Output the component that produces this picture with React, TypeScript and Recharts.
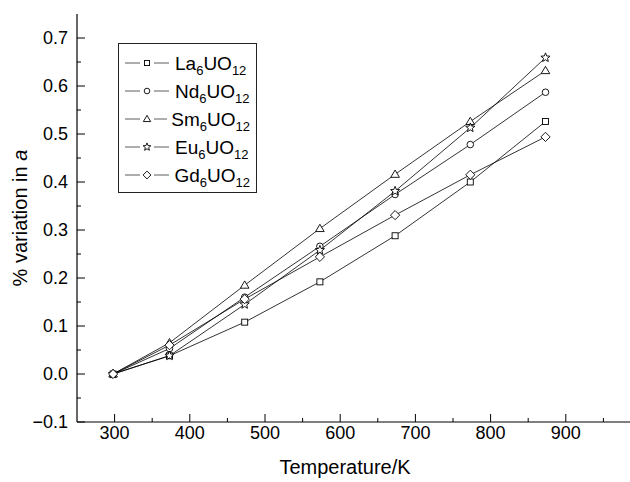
import React from 'react';
import { LineChart, Line, XAxis, YAxis, Legend } from 'recharts';

const FONT = '"Liberation Sans", Arial, Helvetica, sans-serif';

// temperatures (K) and % variation in a for each compound
const temperatures = [298, 373, 473, 573, 673, 773, 873];
const la6 = [0, 0.038, 0.108, 0.192, 0.288, 0.4, 0.526];
const nd6 = [0, 0.053, 0.16, 0.266, 0.374, 0.478, 0.587];
const sm6 = [0, 0.065, 0.185, 0.303, 0.416, 0.526, 0.632];
const eu6 = [0, 0.038, 0.145, 0.258, 0.381, 0.513, 0.659];
const gd6 = [0, 0.06, 0.156, 0.244, 0.331, 0.415, 0.494];

const xTicks = [300, 350, 400, 450, 500, 550, 600, 650, 700, 750, 800, 850, 900, 950];
const xMajor = [300, 400, 500, 600, 700, 800, 900];
const yTicks = [-0.1, -0.05, 0, 0.05, 0.1, 0.15, 0.2, 0.25, 0.3, 0.35, 0.4, 0.45, 0.5, 0.55, 0.6, 0.65, 0.7];
const yMajor = [-0.1, 0, 0.1, 0.2, 0.3, 0.4, 0.5, 0.6, 0.7];

type Shape = 'square' | 'circle' | 'triangle' | 'star' | 'diamond';

const series: { key: string; el: string; values: number[]; shape: Shape }[] = [
  { key: 'la', el: 'La', values: la6, shape: 'square' },
  { key: 'nd', el: 'Nd', values: nd6, shape: 'circle' },
  { key: 'sm', el: 'Sm', values: sm6, shape: 'triangle' },
  { key: 'eu', el: 'Eu', values: eu6, shape: 'star' },
  { key: 'gd', el: 'Gd', values: gd6, shape: 'diamond' },
];

const data = temperatures.map((t, i) => {
  const row: Record<string, number> = { T: t };
  series.forEach((s) => { row[s.key] = s.values[i]; });
  return row;
});

function starPath(cx: number, cy: number, ro: number, ri: number) {
  let d = '';
  for (let k = 0; k < 10; k++) {
    const r = k % 2 === 0 ? ro : ri;
    const a = -Math.PI / 2 + (k * Math.PI) / 5;
    d += (k === 0 ? 'M' : 'L') + (cx + r * Math.cos(a)).toFixed(2) + ',' + (cy + r * Math.sin(a)).toFixed(2);
  }
  return d + 'Z';
}

function Marker({ cx, cy, shape, s = 1 }: { cx: number; cy: number; shape: Shape; s?: number }) {
  const st = { fill: '#fff', stroke: '#000', strokeWidth: 0.9 };
  if (cx == null || cy == null) return null;
  switch (shape) {
    case 'square':
      return <rect x={cx - 3 * s} y={cy - 3 * s} width={6 * s} height={6 * s} {...st} />;
    case 'circle':
      return <circle cx={cx} cy={cy} r={3.3 * s} {...st} />;
    case 'triangle':
      return <path d={`M${cx},${cy - 4.3 * s}L${cx + 4.3 * s},${cy + 3 * s}L${cx - 4.3 * s},${cy + 3 * s}Z`} {...st} />;
    case 'diamond':
      return <path d={`M${cx},${cy - 4.6 * s}L${cx + 4.6 * s},${cy}L${cx},${cy + 4.6 * s}L${cx - 4.6 * s},${cy}Z`} {...st} />;
    default:
      return <path d={starPath(cx, cy, 4.8 * s, 2.1 * s)} {...st} />;
  }
}

const isMajor = (v: number, list: number[]) => list.some((m) => Math.abs(m - v) < 1e-6);

const YTick = (props: any) => {
  const { x, y, payload } = props;
  const v = payload.value as number;
  const axisX = x + 9;
  const major = isMajor(v, yMajor);
  return (
    <g>
      <line x1={axisX} y1={y} x2={axisX + (major ? 8 : 4)} y2={y} stroke="#000" strokeWidth={1} />
      {major && (
        <text x={x} y={y} dy="0.35em" textAnchor="end" fontSize={18} fontFamily={FONT} fill="#000">
          {v < 0 ? '\u2212' + Math.abs(v).toFixed(1) : v.toFixed(1)}
        </text>
      )}
    </g>
  );
};

const XTick = (props: any) => {
  const { x, y, payload } = props;
  const v = payload.value as number;
  const axisY = y - 4;
  const major = isMajor(v, xMajor);
  return (
    <g>
      <line x1={x} y1={axisY} x2={x} y2={axisY - (major ? 8 : 4)} stroke="#000" strokeWidth={1} />
      {major && (
        <text x={x} y={y} dy="0.71em" textAnchor="middle" fontSize={18} fontFamily={FONT} fill="#000">
          {v}
        </text>
      )}
    </g>
  );
};

const YLabel = () => (
  <text transform="translate(27,218) rotate(-90)" textAnchor="middle" fontSize={20} fontFamily={FONT} fill="#000">
    <tspan>% variation in </tspan>
    <tspan fontStyle="italic">a</tspan>
  </text>
);

const renderLegend = () => (
  <div
    style={{
      border: '1.3px solid #222',
      background: '#fff',
      padding: '5px 6px 3px 4px',
      fontFamily: FONT,
      fontSize: 19,
      lineHeight: 1,
      color: '#000',
    }}
  >
    {series.map((s) => (
      <div key={s.key} style={{ display: 'flex', alignItems: 'center', height: 28 }}>
        <svg width={48} height={14} style={{ display: 'block' }}>
          <line x1={2} y1={7} x2={17} y2={7} stroke="#333" strokeWidth={0.8} />
          <Marker cx={24} cy={7} shape={s.shape} s={0.85} />
          <line x1={31} y1={7} x2={46} y2={7} stroke="#333" strokeWidth={0.8} />
        </svg>
        <span style={{ marginLeft: 4, whiteSpace: 'nowrap' }}>
          {s.el}
          <span style={{ fontSize: 13, position: 'relative', top: 5 }}>6</span>
          UO
          <span style={{ fontSize: 13, position: 'relative', top: 5 }}>12</span>
        </span>
      </div>
    ))}
  </div>
);

export default function App() {
  return (
    <div style={{ position: 'absolute', left: 0, top: 0, width: 630, height: 482, overflow: 'hidden', background: '#fff' }}>
      <LineChart width={680} height={482} data={data} margin={{ top: 14, right: 39, left: 0, bottom: 0 }}>
        <XAxis
          dataKey="T"
          type="number"
          domain={[250, 1000]}
          allowDataOverflow
          ticks={xTicks}
          interval={0}
          tickSize={0}
          tickMargin={4}
          tick={<XTick />}
          height={60}
          axisLine={{ stroke: '#000', strokeWidth: 1.2 }}
          label={{ value: 'Temperature/K', position: 'insideBottom', offset: 8, dx: -14, fontSize: 20, fontFamily: FONT, fill: '#000' }}
        />
        <XAxis
          xAxisId="top"
          dataKey="T"
          type="number"
          orientation="top"
          domain={[250, 1000]}
          allowDataOverflow
          height={0}
          tick={false}
          tickLine={false}
          axisLine={{ stroke: '#000', strokeWidth: 1.2 }}
        />
        <YAxis
          type="number"
          domain={[-0.1, 0.75]}
          allowDataOverflow
          ticks={yTicks}
          interval={0}
          tickSize={0}
          tickMargin={9}
          tick={<YTick />}
          width={77}
          axisLine={{ stroke: '#000', strokeWidth: 1.2 }}
          label={<YLabel />}
        />
        <Legend
          layout="vertical"
          align="center"
          verticalAlign="middle"
          content={renderLegend}
          wrapperStyle={{ left: 118, top: 43, width: 139, height: 'auto' }}
        />
        {series.map((s) => (
          <Line
            key={s.key}
            dataKey={s.key}
            type="linear"
            stroke="#000"
            strokeWidth={0.8}
            isAnimationActive={false}
            activeDot={false}
            dot={(p: any) => <Marker key={`${s.key}-${p.index}`} cx={p.cx} cy={p.cy} shape={s.shape} />}
          />
        ))}
      </LineChart>
    </div>
  );
}
